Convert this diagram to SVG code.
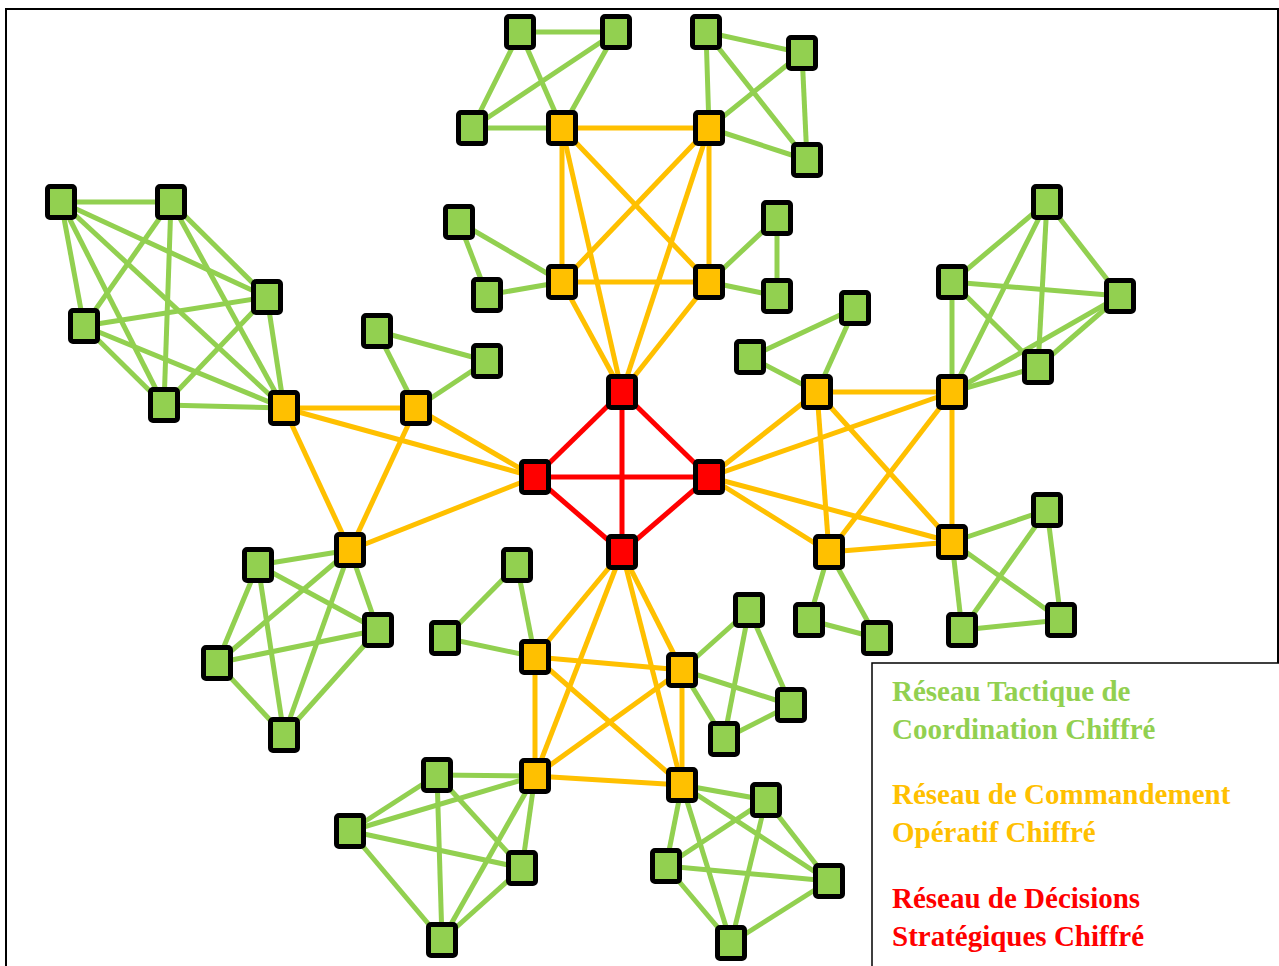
<svg xmlns="http://www.w3.org/2000/svg" width="1279" height="966" viewBox="0 0 1279 966">
  <style>
    .frame { fill: #ffffff; stroke: #000000; stroke-width: 2; }
    .legend { fill: #ffffff; stroke: #000000; stroke-width: 1.5; }
    .e-g { stroke: #92D050; stroke-width: 5; stroke-linecap: butt; }
    .e-y { stroke: #FFC000; stroke-width: 5; stroke-linecap: butt; }
    .e-r { stroke: #FF0000; stroke-width: 5; stroke-linecap: butt; }
    .n rect { stroke: #000000; stroke-width: 5; width: 27px; height: 31px; rx: 2.5px; }
    .ng rect { fill: #92D050; }
    .ny rect { fill: #FFC000; }
    .nr rect { fill: #FF0000; }
    .lt { font-family: "Liberation Serif", "Times New Roman", serif; font-weight: bold; font-size: 29px; }
  </style>

  <!-- outer frame -->
  <rect class="frame" x="6" y="9" width="1272" height="990"/>

  <g id="connectors">
    <!-- strategic core -->
    <line class="e-r" x1="622" y1="392" x2="535" y2="477"/>
    <line class="e-r" x1="622" y1="392" x2="709" y2="477"/>
    <line class="e-r" x1="622" y1="392" x2="622" y2="552"/>
    <line class="e-r" x1="535" y1="477" x2="709" y2="477"/>
    <line class="e-r" x1="535" y1="477" x2="622" y2="552"/>
    <line class="e-r" x1="709" y1="477" x2="622" y2="552"/>

    <!-- operational: top -->
    <line class="e-y" x1="562" y1="128" x2="709" y2="128"/>
    <line class="e-y" x1="562" y1="128" x2="562" y2="282"/>
    <line class="e-y" x1="562" y1="128" x2="709" y2="282"/>
    <line class="e-y" x1="709" y1="128" x2="562" y2="282"/>
    <line class="e-y" x1="709" y1="128" x2="709" y2="282"/>
    <line class="e-y" x1="562" y1="282" x2="709" y2="282"/>
    <line class="e-y" x1="562" y1="128" x2="622" y2="392"/>
    <line class="e-y" x1="709" y1="128" x2="622" y2="392"/>
    <line class="e-y" x1="562" y1="282" x2="622" y2="392"/>
    <line class="e-y" x1="709" y1="282" x2="622" y2="392"/>
    <!-- operational: left -->
    <line class="e-y" x1="284" y1="408" x2="416" y2="408"/>
    <line class="e-y" x1="284" y1="408" x2="350" y2="550"/>
    <line class="e-y" x1="416" y1="408" x2="350" y2="550"/>
    <line class="e-y" x1="284" y1="408" x2="535" y2="477"/>
    <line class="e-y" x1="416" y1="408" x2="535" y2="477"/>
    <line class="e-y" x1="350" y1="550" x2="535" y2="477"/>
    <!-- operational: right -->
    <line class="e-y" x1="817" y1="392" x2="952" y2="392"/>
    <line class="e-y" x1="817" y1="392" x2="829" y2="552"/>
    <line class="e-y" x1="817" y1="392" x2="952" y2="542"/>
    <line class="e-y" x1="952" y1="392" x2="829" y2="552"/>
    <line class="e-y" x1="952" y1="392" x2="952" y2="542"/>
    <line class="e-y" x1="829" y1="552" x2="952" y2="542"/>
    <line class="e-y" x1="709" y1="477" x2="817" y2="392"/>
    <line class="e-y" x1="709" y1="477" x2="952" y2="392"/>
    <line class="e-y" x1="709" y1="477" x2="829" y2="552"/>
    <line class="e-y" x1="709" y1="477" x2="952" y2="542"/>
    <!-- operational: bottom -->
    <line class="e-y" x1="535" y1="657" x2="682" y2="670"/>
    <line class="e-y" x1="535" y1="657" x2="535" y2="776"/>
    <line class="e-y" x1="535" y1="657" x2="682" y2="785"/>
    <line class="e-y" x1="682" y1="670" x2="535" y2="776"/>
    <line class="e-y" x1="682" y1="670" x2="682" y2="785"/>
    <line class="e-y" x1="535" y1="776" x2="682" y2="785"/>
    <line class="e-y" x1="622" y1="552" x2="535" y2="657"/>
    <line class="e-y" x1="622" y1="552" x2="682" y2="670"/>
    <line class="e-y" x1="622" y1="552" x2="535" y2="776"/>
    <line class="e-y" x1="622" y1="552" x2="682" y2="785"/>

    <!-- tactical: top -->
    <line class="e-g" x1="520" y1="32" x2="616" y2="32"/>
    <line class="e-g" x1="520" y1="32" x2="472" y2="128"/>
    <line class="e-g" x1="520" y1="32" x2="562" y2="128"/>
    <line class="e-g" x1="616" y1="32" x2="472" y2="128"/>
    <line class="e-g" x1="616" y1="32" x2="562" y2="128"/>
    <line class="e-g" x1="472" y1="128" x2="562" y2="128"/>
    <line class="e-g" x1="706" y1="32" x2="802" y2="53"/>
    <line class="e-g" x1="706" y1="32" x2="709" y2="128"/>
    <line class="e-g" x1="706" y1="32" x2="807" y2="160"/>
    <line class="e-g" x1="802" y1="53" x2="709" y2="128"/>
    <line class="e-g" x1="802" y1="53" x2="807" y2="160"/>
    <line class="e-g" x1="709" y1="128" x2="807" y2="160"/>
    <line class="e-g" x1="459" y1="222" x2="487" y2="295"/>
    <line class="e-g" x1="459" y1="222" x2="562" y2="282"/>
    <line class="e-g" x1="487" y1="295" x2="562" y2="282"/>
    <line class="e-g" x1="777" y1="218" x2="709" y2="282"/>
    <line class="e-g" x1="777" y1="218" x2="777" y2="296"/>
    <line class="e-g" x1="709" y1="282" x2="777" y2="296"/>

    <!-- tactical: upper left mesh -->
    <line class="e-g" x1="61" y1="202" x2="171" y2="202"/>
    <line class="e-g" x1="61" y1="202" x2="267" y2="297"/>
    <line class="e-g" x1="61" y1="202" x2="84" y2="326"/>
    <line class="e-g" x1="61" y1="202" x2="164" y2="405"/>
    <line class="e-g" x1="61" y1="202" x2="284" y2="408"/>
    <line class="e-g" x1="171" y1="202" x2="267" y2="297"/>
    <line class="e-g" x1="171" y1="202" x2="84" y2="326"/>
    <line class="e-g" x1="171" y1="202" x2="164" y2="405"/>
    <line class="e-g" x1="171" y1="202" x2="284" y2="408"/>
    <line class="e-g" x1="267" y1="297" x2="84" y2="326"/>
    <line class="e-g" x1="267" y1="297" x2="164" y2="405"/>
    <line class="e-g" x1="267" y1="297" x2="284" y2="408"/>
    <line class="e-g" x1="84" y1="326" x2="164" y2="405"/>
    <line class="e-g" x1="84" y1="326" x2="284" y2="408"/>
    <line class="e-g" x1="164" y1="405" x2="284" y2="408"/>
    <line class="e-g" x1="377" y1="331" x2="487" y2="361"/>
    <line class="e-g" x1="377" y1="331" x2="416" y2="408"/>
    <line class="e-g" x1="487" y1="361" x2="416" y2="408"/>
    <!-- tactical: lower left mesh -->
    <line class="e-g" x1="350" y1="550" x2="258" y2="565"/>
    <line class="e-g" x1="350" y1="550" x2="378" y2="630"/>
    <line class="e-g" x1="350" y1="550" x2="217" y2="663"/>
    <line class="e-g" x1="350" y1="550" x2="284" y2="735"/>
    <line class="e-g" x1="258" y1="565" x2="378" y2="630"/>
    <line class="e-g" x1="258" y1="565" x2="217" y2="663"/>
    <line class="e-g" x1="258" y1="565" x2="284" y2="735"/>
    <line class="e-g" x1="378" y1="630" x2="217" y2="663"/>
    <line class="e-g" x1="378" y1="630" x2="284" y2="735"/>
    <line class="e-g" x1="217" y1="663" x2="284" y2="735"/>

    <!-- tactical: right -->
    <line class="e-g" x1="750" y1="357" x2="855" y2="308"/>
    <line class="e-g" x1="750" y1="357" x2="817" y2="392"/>
    <line class="e-g" x1="855" y1="308" x2="817" y2="392"/>
    <line class="e-g" x1="952" y1="392" x2="1047" y2="202"/>
    <line class="e-g" x1="952" y1="392" x2="952" y2="282"/>
    <line class="e-g" x1="952" y1="392" x2="1120" y2="296"/>
    <line class="e-g" x1="952" y1="392" x2="1038" y2="367"/>
    <line class="e-g" x1="1047" y1="202" x2="952" y2="282"/>
    <line class="e-g" x1="1047" y1="202" x2="1120" y2="296"/>
    <line class="e-g" x1="1047" y1="202" x2="1038" y2="367"/>
    <line class="e-g" x1="952" y1="282" x2="1120" y2="296"/>
    <line class="e-g" x1="952" y1="282" x2="1038" y2="367"/>
    <line class="e-g" x1="1120" y1="296" x2="1038" y2="367"/>
    <line class="e-g" x1="952" y1="542" x2="1047" y2="510"/>
    <line class="e-g" x1="952" y1="542" x2="962" y2="630"/>
    <line class="e-g" x1="952" y1="542" x2="1061" y2="620"/>
    <line class="e-g" x1="1047" y1="510" x2="962" y2="630"/>
    <line class="e-g" x1="1047" y1="510" x2="1061" y2="620"/>
    <line class="e-g" x1="962" y1="630" x2="1061" y2="620"/>
    <line class="e-g" x1="829" y1="552" x2="809" y2="620"/>
    <line class="e-g" x1="829" y1="552" x2="877" y2="638"/>
    <line class="e-g" x1="809" y1="620" x2="877" y2="638"/>

    <!-- tactical: bottom -->
    <line class="e-g" x1="517" y1="565" x2="445" y2="638"/>
    <line class="e-g" x1="517" y1="565" x2="535" y2="657"/>
    <line class="e-g" x1="445" y1="638" x2="535" y2="657"/>
    <line class="e-g" x1="682" y1="670" x2="749" y2="610"/>
    <line class="e-g" x1="682" y1="670" x2="791" y2="705"/>
    <line class="e-g" x1="682" y1="670" x2="724" y2="739"/>
    <line class="e-g" x1="749" y1="610" x2="791" y2="705"/>
    <line class="e-g" x1="749" y1="610" x2="724" y2="739"/>
    <line class="e-g" x1="791" y1="705" x2="724" y2="739"/>
    <line class="e-g" x1="535" y1="776" x2="437" y2="775"/>
    <line class="e-g" x1="535" y1="776" x2="350" y2="831"/>
    <line class="e-g" x1="535" y1="776" x2="522" y2="868"/>
    <line class="e-g" x1="535" y1="776" x2="442" y2="940"/>
    <line class="e-g" x1="437" y1="775" x2="350" y2="831"/>
    <line class="e-g" x1="437" y1="775" x2="522" y2="868"/>
    <line class="e-g" x1="437" y1="775" x2="442" y2="940"/>
    <line class="e-g" x1="350" y1="831" x2="522" y2="868"/>
    <line class="e-g" x1="350" y1="831" x2="442" y2="940"/>
    <line class="e-g" x1="522" y1="868" x2="442" y2="940"/>
    <line class="e-g" x1="682" y1="785" x2="766" y2="800"/>
    <line class="e-g" x1="682" y1="785" x2="666" y2="866"/>
    <line class="e-g" x1="682" y1="785" x2="829" y2="881"/>
    <line class="e-g" x1="682" y1="785" x2="731" y2="943"/>
    <line class="e-g" x1="766" y1="800" x2="666" y2="866"/>
    <line class="e-g" x1="766" y1="800" x2="829" y2="881"/>
    <line class="e-g" x1="766" y1="800" x2="731" y2="943"/>
    <line class="e-g" x1="666" y1="866" x2="829" y2="881"/>
    <line class="e-g" x1="666" y1="866" x2="731" y2="943"/>
    <line class="e-g" x1="829" y1="881" x2="731" y2="943"/>
  </g>

  <!-- strategic nodes -->
  <g id="r1" class="n nr"><rect x="608.5" y="376.5"/></g>
  <g id="r2" class="n nr"><rect x="521.5" y="461.5"/></g>
  <g id="r3" class="n nr"><rect x="695.5" y="461.5"/></g>
  <g id="r4" class="n nr"><rect x="608.5" y="536.5"/></g>

  <!-- operational nodes -->
  <g id="yt1" class="n ny"><rect x="548.5" y="112.5"/></g>
  <g id="yt2" class="n ny"><rect x="695.5" y="112.5"/></g>
  <g id="yt3" class="n ny"><rect x="548.5" y="266.5"/></g>
  <g id="yt4" class="n ny"><rect x="695.5" y="266.5"/></g>
  <g id="yl1" class="n ny"><rect x="270.5" y="392.5"/></g>
  <g id="yl2" class="n ny"><rect x="402.5" y="392.5"/></g>
  <g id="yl3" class="n ny"><rect x="336.5" y="534.5"/></g>
  <g id="yr1" class="n ny"><rect x="803.5" y="376.5"/></g>
  <g id="yr2" class="n ny"><rect x="938.5" y="376.5"/></g>
  <g id="yr3" class="n ny"><rect x="815.5" y="536.5"/></g>
  <g id="yr4" class="n ny"><rect x="938.5" y="526.5"/></g>
  <g id="yb1" class="n ny"><rect x="521.5" y="641.5"/></g>
  <g id="yb2" class="n ny"><rect x="668.5" y="654.5"/></g>
  <g id="yb3" class="n ny"><rect x="521.5" y="760.5"/></g>
  <g id="yb4" class="n ny"><rect x="668.5" y="769.5"/></g>

  <!-- tactical nodes -->
  <g id="gt1" class="n ng"><rect x="506.5" y="16.5"/></g>
  <g id="gt2" class="n ng"><rect x="602.5" y="16.5"/></g>
  <g id="gt3" class="n ng"><rect x="458.5" y="112.5"/></g>
  <g id="gt4" class="n ng"><rect x="692.5" y="16.5"/></g>
  <g id="gt5" class="n ng"><rect x="788.5" y="37.5"/></g>
  <g id="gt6" class="n ng"><rect x="793.5" y="144.5"/></g>
  <g id="gt7" class="n ng"><rect x="445.5" y="206.5"/></g>
  <g id="gt8" class="n ng"><rect x="473.5" y="279.5"/></g>
  <g id="gt9" class="n ng"><rect x="763.5" y="202.5"/></g>
  <g id="gt10" class="n ng"><rect x="763.5" y="280.5"/></g>
  <g id="gl1" class="n ng"><rect x="47.5" y="186.5"/></g>
  <g id="gl2" class="n ng"><rect x="157.5" y="186.5"/></g>
  <g id="gl3" class="n ng"><rect x="253.5" y="281.5"/></g>
  <g id="gl4" class="n ng"><rect x="70.5" y="310.5"/></g>
  <g id="gl5" class="n ng"><rect x="150.5" y="389.5"/></g>
  <g id="gl6" class="n ng"><rect x="363.5" y="315.5"/></g>
  <g id="gl7" class="n ng"><rect x="473.5" y="345.5"/></g>
  <g id="gl8" class="n ng"><rect x="244.5" y="549.5"/></g>
  <g id="gl9" class="n ng"><rect x="364.5" y="614.5"/></g>
  <g id="gl10" class="n ng"><rect x="203.5" y="647.5"/></g>
  <g id="gl11" class="n ng"><rect x="270.5" y="719.5"/></g>
  <g id="gr1" class="n ng"><rect x="736.5" y="341.5"/></g>
  <g id="gr2" class="n ng"><rect x="841.5" y="292.5"/></g>
  <g id="gr3" class="n ng"><rect x="1033.5" y="186.5"/></g>
  <g id="gr4" class="n ng"><rect x="938.5" y="266.5"/></g>
  <g id="gr5" class="n ng"><rect x="1106.5" y="280.5"/></g>
  <g id="gr6" class="n ng"><rect x="1024.5" y="351.5"/></g>
  <g id="gr7" class="n ng"><rect x="1033.5" y="494.5"/></g>
  <g id="gr8" class="n ng"><rect x="948.5" y="614.5"/></g>
  <g id="gr9" class="n ng"><rect x="1047.5" y="604.5"/></g>
  <g id="gr10" class="n ng"><rect x="795.5" y="604.5"/></g>
  <g id="gr11" class="n ng"><rect x="863.5" y="622.5"/></g>
  <g id="gb1" class="n ng"><rect x="503.5" y="549.5"/></g>
  <g id="gb2" class="n ng"><rect x="431.5" y="622.5"/></g>
  <g id="gb3" class="n ng"><rect x="735.5" y="594.5"/></g>
  <g id="gb4" class="n ng"><rect x="777.5" y="689.5"/></g>
  <g id="gb5" class="n ng"><rect x="710.5" y="723.5"/></g>
  <g id="gb6" class="n ng"><rect x="423.5" y="759.5"/></g>
  <g id="gb7" class="n ng"><rect x="336.5" y="815.5"/></g>
  <g id="gb8" class="n ng"><rect x="508.5" y="852.5"/></g>
  <g id="gb9" class="n ng"><rect x="428.5" y="924.5"/></g>
  <g id="gb10" class="n ng"><rect x="752.5" y="784.5"/></g>
  <g id="gb11" class="n ng"><rect x="652.5" y="850.5"/></g>
  <g id="gb12" class="n ng"><rect x="815.5" y="865.5"/></g>
  <g id="gb13" class="n ng"><rect x="717.5" y="927.5"/></g>

  <!-- legend -->
  <g id="legend">
    <rect class="legend" x="872" y="663" width="420" height="320"/>
    <text class="lt" fill="#92D050" x="892" y="701">Réseau Tactique de</text>
    <text class="lt" fill="#92D050" x="892" y="739">Coordination Chiffré</text>
    <text class="lt" fill="#FFC000" x="892" y="804">Réseau de Commandement</text>
    <text class="lt" fill="#FFC000" x="892" y="842">Opératif Chiffré</text>
    <text class="lt" fill="#FF0000" x="892" y="908">Réseau de Décisions</text>
    <text class="lt" fill="#FF0000" x="892" y="946">Stratégiques Chiffré</text>
  </g>
</svg>
